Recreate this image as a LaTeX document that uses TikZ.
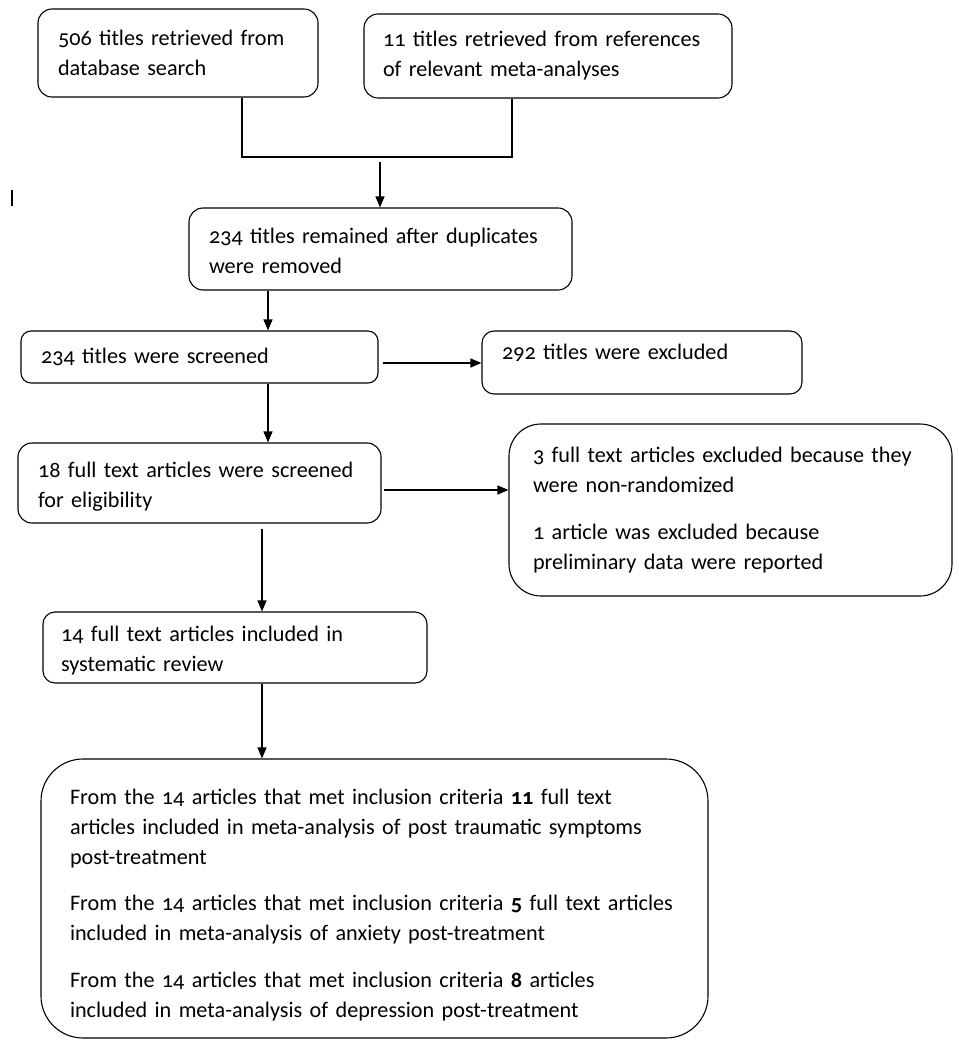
\documentclass[tikz,border=0pt]{standalone}
\usepackage{fontspec}
\setmainfont{Carlito}[Numbers=OldStyle]
\usetikzlibrary{arrows.meta}

\begin{document}
\begin{tikzpicture}[x=1pt, y=-1pt,
    box/.style={draw, line width=1.1pt, rounded corners=#1, align=left,
        font=\fontsize{22.2}{30}\selectfont, inner ysep=0pt},
    box/.default=14pt,
    >={Triangle[length=11pt,width=9pt]}]
        \useasboundingbox (0,0) rectangle (958,1040);
        % records found
        \node[box, minimum width=280pt, minimum height=88pt, inner xsep=20pt, text width=240pt] (A) at (178,53)
            {506 titles retrieved from\\database search};
        \node[box, minimum width=368pt, minimum height=84pt, inner xsep=19pt, text width=330pt] (B) at (548,56)
            {11 titles retrieved from references\\of relevant meta-analyses};
        \node[box, minimum width=383pt, minimum height=82pt, inner xsep=20pt, text width=343pt] (C) at (380.5,249)
            {\rule{0pt}{20pt}234 titles remained after duplicates\\were removed};
        % screening
        \node[box=10pt, minimum width=357pt, minimum height=52pt, inner xsep=20pt, text width=317pt] (D) at (199.5,357)
            {234 titles were screened};
        \node[box=12pt, minimum width=320pt, minimum height=63pt, inner xsep=20pt, text width=280pt, text depth=22pt] (E) at (642,362.5)
            {292 titles were excluded};
        \node[box, minimum width=363pt, minimum height=80pt, inner xsep=20pt, text width=323pt] (F) at (199.5,483)
            {\rule{0pt}{22pt}18 full text articles were screened\\for eligibility};
        \node[box=32pt, minimum width=443pt, minimum height=172pt, inner xsep=24pt, text width=395pt] (G) at (730.5,510)
            {3 full text articles excluded because they\\were non-randomized\\[17pt]
             1 article was excluded because\\preliminary data were reported};
        % included
        \node[box=12pt, minimum width=384pt, minimum height=71pt, inner xsep=18pt, text width=348pt] (H) at (235,647.5)
            {\rule{0pt}{22pt}14 full text articles included in\\systematic review};
        \node[box=42pt, minimum width=667pt, minimum height=279pt, inner xsep=29pt, text width=609pt] (I) at (374.5,898.5)
            {\rule{0pt}{28pt}From the 14 articles that met inclusion criteria \textbf{11} full text\\
             articles included in meta-analysis of post traumatic symptoms\\
             post-treatment\\[16pt]
             From the 14 articles that met inclusion criteria \textbf{5} full text articles\\
             included in meta-analysis of anxiety post-treatment\\[17pt]
             From the 14 articles that met inclusion criteria \textbf{8} articles\\
             included in meta-analysis of depression post-treatment};

        \coordinate (jl) at (242,157);
        \coordinate (jr) at (512,157);
        \coordinate (jm) at (380,162);
        \coordinate (xcd) at (268,0);
        \coordinate (xfh) at (262,0);
        \coordinate (de) at (0,363);
        \coordinate (fg) at (0,490);

        \draw [line width=1.1pt] (A.south -| jl) -- (jl) -- (jr) -- (B.south -| jr);
        \draw [line width=1.1pt,->] (jm) -- (C.north -| jm);
        \draw [line width=1.1pt,->] (C.south -| xcd) -- (D.north -| xcd);
        \draw [line width=1.1pt,->,shorten <=4pt] (D.east |- de) -- (E.west |- de);
        \draw [line width=1.1pt,->] (D.south -| xcd) -- (F.north -| xcd);
        \draw [line width=1.1pt,->,shorten <=2pt] (F.east |- fg) -- (G.west |- fg);
        \draw [line width=1.1pt,->,shorten <=5pt] (F.south -| xfh) -- (H.north -| xfh);
        \draw [line width=1.1pt,->] (H.south -| xfh) -- (I.north -| xfh);
        % stray mark
        \draw [line width=1.1pt] (12,190) -- (12,206);
\end{tikzpicture}
\end{document}
